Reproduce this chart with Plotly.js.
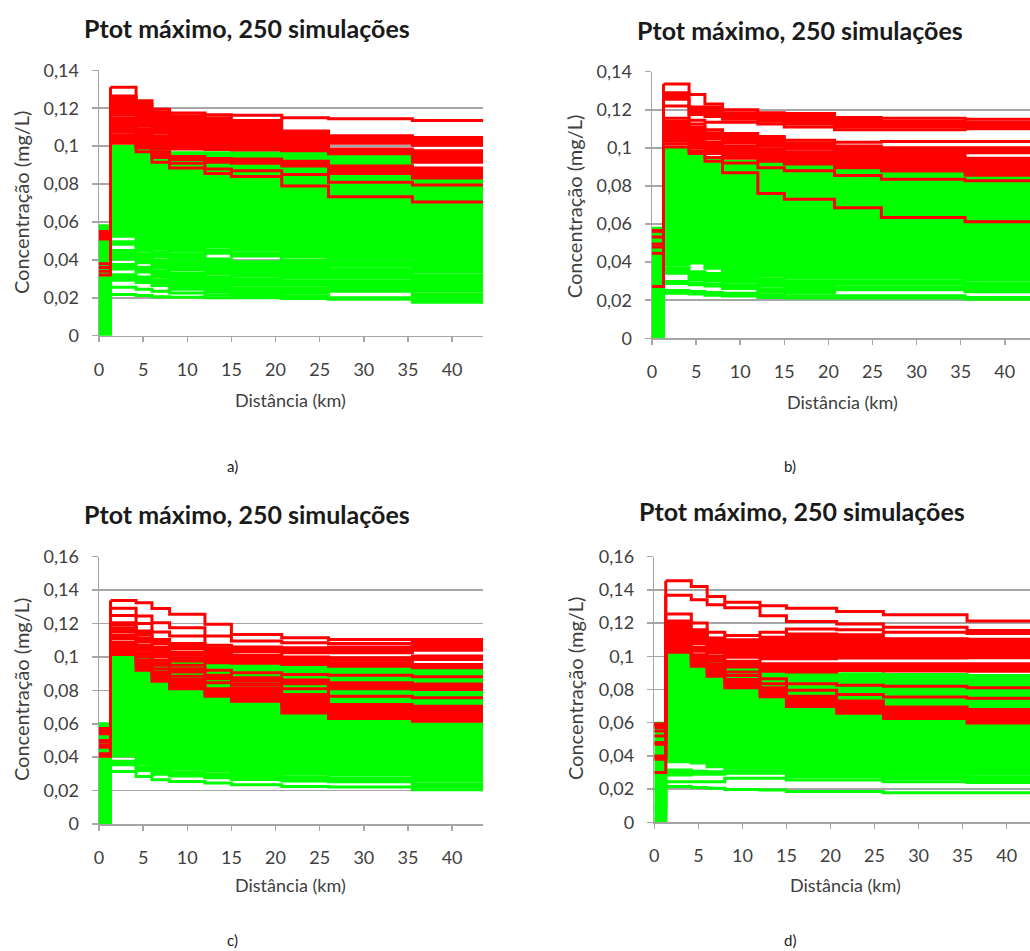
<!DOCTYPE html>
<html>
<head>
<meta charset="utf-8">
<script src="https://cdn.plot.ly/plotly-3.0.1.min.js"></script>
<style>html,body{margin:0;padding:0;background:#fff;}#chart{width:1030px;height:951px;}</style>
</head>
<body>
<div id="chart"></div>
<script>
// Distance nodes (km) where the simulated profiles change value
const kmNodes = [0, 1.3, 4.2, 6, 8, 12, 15, 20.7, 26, 35.5, 43.5];
// Each row: [start value (0-1.3 km), peak (1.3-4.2), then values from 4.2, 6, 8, 12, 15, 20.7, 26, 35.5 km]

// ---------- Panel a ----------
const aGreen = [
  [0.000, 0.0218, 0.0212, 0.0206, 0.0203, 0.0200, 0.0200, 0.0196, 0.0192, 0.0177],
  [0.0012, 0.0255, 0.0245, 0.0235, 0.0225, 0.0215, 0.0212, 0.0208, 0.0200, 0.0190],
  [0.0024, 0.0292, 0.0280, 0.0265, 0.0245, 0.0231, 0.0228, 0.0224, 0.0235, 0.0204],
  [0.018, 0.0322, 0.031, 0.0295, 0.0275, 0.026, 0.025, 0.025, 0.026, 0.022],
  [0.0192, 0.0352, 0.0336, 0.0311, 0.0291, 0.0276, 0.0266, 0.0266, 0.0276, 0.0236],
  [0.026, 0.0375, 0.036, 0.034, 0.033, 0.031, 0.030, 0.029, 0.029, 0.026],
  [0.0272, 0.0405, 0.0385, 0.0356, 0.0346, 0.0326, 0.0316, 0.0306, 0.0306, 0.0276],
  [0.034, 0.045, 0.043, 0.040, 0.039, 0.0405, 0.039, 0.036, 0.035, 0.032],
  [0.0352, 0.0482, 0.0446, 0.0416, 0.0406, 0.0435, 0.042, 0.0376, 0.0366, 0.0336],
  [0.042, 0.0495, 0.047, 0.044, 0.043, 0.045, 0.0435, 0.040, 0.039, 0.036],
  [0.0432, 0.0525, 0.0486, 0.0456, 0.0446, 0.0466, 0.0451, 0.0416, 0.0406, 0.0376],
  [0.050, 0.070, 0.068, 0.066, 0.064, 0.062, 0.060, 0.058, 0.056, 0.053],
  [0.058, 0.100, 0.098, 0.097, 0.0965, 0.0965, 0.0965, 0.0965, 0.0965, 0.0835]
];
const aGreenJoin = [0, 0, 0, 1, 0, 1, 0, 1, 0, 1, 0, 1, 1];
const aRed = [
  [0.032, 0.1015, 0.097, 0.0915, 0.0885, 0.0855, 0.084, 0.079, 0.0733, 0.0705],
  [0.034, 0.1030, 0.099, 0.094, 0.091, 0.088, 0.087, 0.085, 0.081, 0.0795],
  [0.036, 0.1045, 0.100, 0.0955, 0.093, 0.0915, 0.091, 0.0895, 0.0855, 0.0832],
  [0.038, 0.1060, 0.1015, 0.097, 0.0945, 0.0935, 0.0932, 0.092, 0.0895, 0.0885],
  [0.051, 0.1075, 0.103, 0.0985, 0.0985, 0.0982, 0.098, 0.0975, 0.096, 0.0915],
  [0.052, 0.1100, 0.1055, 0.1015, 0.1005, 0.1005, 0.1003, 0.099, 0.097, 0.0945],
  [0.053, 0.1150, 0.109, 0.1055, 0.104, 0.104, 0.103, 0.101, 0.0985, 0.0975],
  [0.054, 0.1165, 0.1105, 0.107, 0.1055, 0.1055, 0.1045, 0.1025, 0.1015, 0.1005],
  [0.055, 0.124, 0.117, 0.1125, 0.110, 0.109, 0.108, 0.106, 0.1045, 0.1045],
  [0.055, 0.1265, 0.1225, 0.118, 0.116, 0.115, 0.1135, 0.108, 0.1055, 0.1045],
  [0.055, 0.131, 0.124, 0.1195, 0.1175, 0.1165, 0.1163, 0.115, 0.1145, 0.1135]
];
const aRedJoin = [0, 0, 0, 1, 0, 1, 1, 0, 1, 1, 0];

// ---------- Panel b ----------
const bGreen = [
  [0, 0.0236, 0.0232, 0.0226, 0.0222, 0.0214, 0.0212, 0.0212, 0.0212, 0.0205],
  [0.004, 0.0251, 0.0246, 0.024, 0.0236, 0.0226, 0.0224, 0.0224, 0.0224, 0.0214],
  [0.0052, 0.0288, 0.0281, 0.0275, 0.0262, 0.0242, 0.0240, 0.0255, 0.0255, 0.0245],
  [0.008, 0.0298, 0.029, 0.0285, 0.0278, 0.0258, 0.0256, 0.0271, 0.0271, 0.0261],
  [0.0092, 0.0341, 0.0306, 0.0301, 0.0294, 0.0274, 0.0272, 0.0287, 0.0287, 0.0277],
  [0.02, 0.037, 0.035, 0.034, 0.033, 0.031, 0.030, 0.030, 0.030, 0.029],
  [0.0212, 0.0386, 0.0395, 0.0368, 0.0346, 0.0326, 0.0316, 0.0316, 0.0316, 0.0306],
  [0.03, 0.045, 0.044, 0.042, 0.040, 0.038, 0.037, 0.036, 0.035, 0.034],
  [0.045, 0.07, 0.068, 0.065, 0.063, 0.061, 0.059, 0.057, 0.055, 0.053],
  [0.0578, 0.0995, 0.097, 0.095, 0.093, 0.092, 0.091, 0.089, 0.0875, 0.0855]
];
const bGreenJoin = [0, 1, 0, 1, 0, 1, 0, 1, 1, 1];
const bRed = [
  [0.0272, 0.1005, 0.097, 0.093, 0.087, 0.076, 0.073, 0.0685, 0.0635, 0.0612],
  [0.0446, 0.102, 0.0985, 0.095, 0.092, 0.0895, 0.088, 0.0855, 0.0835, 0.0828],
  [0.048, 0.1035, 0.1, 0.097, 0.0945, 0.093, 0.0915, 0.0895, 0.0878, 0.0856],
  [0.0495, 0.105, 0.103, 0.1, 0.098, 0.0965, 0.095, 0.093, 0.091, 0.0893],
  [0.0532, 0.107, 0.106, 0.103, 0.101, 0.0995, 0.098, 0.0965, 0.0955, 0.0945],
  [0.0565, 0.1085, 0.1076, 0.1046, 0.1026, 0.1011, 0.0996, 0.0981, 0.0971, 0.0975],
  [0.0565, 0.114, 0.111, 0.108, 0.106, 0.1045, 0.1025, 0.101, 0.1, 0.1],
  [0.0565, 0.1155, 0.1125, 0.1095, 0.1075, 0.106, 0.104, 0.103, 0.1033, 0.1033],
  [0.0565, 0.122, 0.1145, 0.1135, 0.1135, 0.1125, 0.111, 0.1095, 0.1095, 0.11],
  [0.0565, 0.1255, 0.1175, 0.1165, 0.115, 0.114, 0.1125, 0.111, 0.111, 0.1112],
  [0.0565, 0.129, 0.1215, 0.1215, 0.1185, 0.117, 0.1165, 0.1145, 0.114, 0.1135],
  [0.0565, 0.1335, 0.128, 0.123, 0.12, 0.1185, 0.118, 0.116, 0.1155, 0.115]
];
const bRedJoin = [0, 0, 0, 1, 1, 0, 1, 0, 0, 0, 1, 0];

// ---------- Panel c ----------
const cGreen = [
  [0, 0.0315, 0.0285, 0.0265, 0.0255, 0.0245, 0.0235, 0.0225, 0.0222, 0.0205],
  [0.0012, 0.0355, 0.032, 0.0298, 0.0288, 0.0277, 0.0267, 0.0257, 0.0253, 0.022],
  [0.004, 0.0375, 0.034, 0.032, 0.031, 0.030, 0.029, 0.028, 0.0275, 0.024],
  [0.0052, 0.0408, 0.0358, 0.0338, 0.0328, 0.0318, 0.0308, 0.0298, 0.0293, 0.0258],
  [0.02, 0.05, 0.045, 0.042, 0.040, 0.038, 0.037, 0.036, 0.035, 0.033],
  [0.04, 0.075, 0.07, 0.066, 0.064, 0.062, 0.060, 0.058, 0.056, 0.054],
  [0.06, 0.1005, 0.099, 0.097, 0.0965, 0.0962, 0.096, 0.0955, 0.095, 0.0945]
];
const cGreenJoin = [0, 0, 1, 0, 1, 1, 1];
const cRed = [
  [0.0405, 0.1015, 0.092, 0.0855, 0.081, 0.0765, 0.0735, 0.0665, 0.0632, 0.0615],
  [0.041, 0.102, 0.095, 0.088, 0.0835, 0.0785, 0.0755, 0.0705, 0.0665, 0.066],
  [0.042, 0.103, 0.098, 0.091, 0.0865, 0.081, 0.0815, 0.0775, 0.0715, 0.0705],
  [0.046, 0.1045, 0.1, 0.093, 0.0885, 0.0845, 0.0835, 0.081, 0.0765, 0.0755],
  [0.047, 0.106, 0.101, 0.095, 0.091, 0.087, 0.0855, 0.084, 0.081, 0.0805],
  [0.049, 0.1075, 0.1025, 0.0965, 0.093, 0.089, 0.0875, 0.0862, 0.0845, 0.0838],
  [0.050, 0.109, 0.104, 0.098, 0.095, 0.092, 0.0905, 0.0895, 0.089, 0.0882],
  [0.054, 0.111, 0.1055, 0.1, 0.0975, 0.0965, 0.0962, 0.0955, 0.0945, 0.0935],
  [0.055, 0.113, 0.107, 0.102, 0.0995, 0.0985, 0.098, 0.097, 0.0965, 0.0955],
  [0.056, 0.115, 0.109, 0.1035, 0.101, 0.1, 0.0995, 0.0985, 0.098, 0.0985],
  [0.057, 0.117, 0.111, 0.106, 0.103, 0.102, 0.101, 0.1, 0.0995, 0.1005],
  [0.057, 0.119, 0.113, 0.108, 0.105, 0.1036, 0.1031, 0.1025, 0.1025, 0.104],
  [0.057, 0.1205, 0.1155, 0.1105, 0.108, 0.1055, 0.1045, 0.104, 0.1045, 0.1085],
  [0.057, 0.1248, 0.12, 0.115, 0.1125, 0.107, 0.106, 0.1055, 0.106, 0.109],
  [0.057, 0.1292, 0.1245, 0.1205, 0.1175, 0.1125, 0.1095, 0.1085, 0.108, 0.1095],
  [0.057, 0.1338, 0.1325, 0.129, 0.1255, 0.1195, 0.1135, 0.1115, 0.1105, 0.1105]
];
const cRedJoin = [0, 1, 1, 0, 0, 1, 0, 0, 1, 0, 1, 0, 1, 0, 0, 0];

// ---------- Panel d ----------
const dGreen = [
  [0, 0.0215, 0.021, 0.0205, 0.0198, 0.0195, 0.0185, 0.0185, 0.0178, 0.0178],
  [0.0012, 0.0245, 0.0245, 0.0245, 0.0265, 0.0265, 0.0255, 0.0255, 0.0245, 0.024],
  [0.0024, 0.0285, 0.029, 0.029, 0.0295, 0.0295, 0.0273, 0.0273, 0.0263, 0.0258],
  [0.008, 0.0315, 0.0308, 0.0305, 0.031, 0.031, 0.029, 0.029, 0.028, 0.0275],
  [0.0092, 0.0365, 0.0358, 0.0335, 0.0326, 0.0326, 0.0306, 0.0306, 0.0296, 0.0291],
  [0.02, 0.05, 0.048, 0.045, 0.043, 0.041, 0.039, 0.038, 0.037, 0.036],
  [0.04, 0.075, 0.072, 0.068, 0.065, 0.062, 0.06, 0.058, 0.056, 0.055],
  [0.0596, 0.1018, 0.1, 0.097, 0.0945, 0.092, 0.0905, 0.0895, 0.089, 0.0885]
];
const dGreenJoin = [0, 0, 0, 1, 0, 1, 1, 1];
const dRed = [
  [0.030, 0.1025, 0.094, 0.088, 0.081, 0.0757, 0.0697, 0.0657, 0.0626, 0.0598],
  [0.038, 0.1035, 0.096, 0.09, 0.0835, 0.078, 0.0725, 0.069, 0.0655, 0.0635],
  [0.039, 0.1045, 0.098, 0.092, 0.086, 0.081, 0.076, 0.073, 0.0695, 0.068],
  [0.040, 0.1055, 0.0995, 0.0935, 0.0885, 0.0835, 0.0795, 0.077, 0.0755, 0.0748],
  [0.047, 0.1065, 0.101, 0.095, 0.0905, 0.0865, 0.0835, 0.0825, 0.082, 0.081],
  [0.048, 0.1075, 0.103, 0.097, 0.0935, 0.091, 0.0905, 0.0915, 0.0912, 0.091],
  [0.052, 0.1085, 0.1055, 0.1, 0.097, 0.0955, 0.0955, 0.0955, 0.0955, 0.0955],
  [0.055, 0.1095, 0.1075, 0.102, 0.0995, 0.0985, 0.0985, 0.099, 0.099, 0.0992],
  [0.057, 0.1105, 0.11, 0.105, 0.103, 0.1025, 0.1035, 0.1035, 0.1035, 0.1043],
  [0.058, 0.114, 0.113, 0.108, 0.1065, 0.107, 0.1085, 0.1085, 0.107, 0.1073],
  [0.059, 0.1213, 0.116, 0.111, 0.11, 0.1115, 0.1135, 0.113, 0.1105, 0.1102],
  [0.059, 0.1255, 0.12, 0.1145, 0.1125, 0.1145, 0.1165, 0.116, 0.1145, 0.1138],
  [0.059, 0.1368, 0.134, 0.131, 0.1292, 0.1245, 0.121, 0.1195, 0.1175, 0.1155],
  [0.059, 0.1455, 0.142, 0.136, 0.1325, 0.1305, 0.129, 0.127, 0.125, 0.1213]
];
const dRedJoin = [0, 1, 1, 0, 0, 0, 1, 0, 1, 1, 1, 0, 0, 0];

// Axis tick labels and texts
const xTicks = [0, 5, 10, 15, 20, 25, 30, 35, 40];
const titleText = 'Ptot máximo, 250 simulações';
const xTitleText = 'Distância (km)';
const yTitleText = 'Concentração (mg/L)';
const captions = ['a)', 'b)', 'c)', 'd)'];

// ---------- Build ----------
const RED = '#ff0000', GREEN = '#00ff00', LW = 3;
const traces = [];
function profile(row) { // y-values on kmNodes (last value held to the end)
  return [row[0]].concat(row.slice(1), [row[row.length - 1]]);
}
function addPanel(greens, gJoin, reds, rJoin, xa, ya) {
  greens.forEach((row, i) => {
    traces.push({x: kmNodes, y: profile(row), xaxis: xa, yaxis: ya, mode: 'lines',
      line: {shape: 'hv', color: GREEN, width: LW}, fill: (i > 0 && gJoin[i]) ? 'tonexty' : 'none',
      fillcolor: GREEN, hoverinfo: 'skip', showlegend: false});
  });
  reds.forEach((row, i) => {
    traces.push({x: kmNodes.slice(1), y: profile(row).slice(1), xaxis: xa, yaxis: ya, mode: 'lines',
      line: {shape: 'hv', color: RED, width: LW}, fill: (i > 0 && rJoin[i]) ? 'tonexty' : 'none',
      fillcolor: RED, hoverinfo: 'skip', showlegend: false});
  });
  reds.forEach((row) => {
    traces.push({x: [kmNodes[0], kmNodes[1], kmNodes[1]], y: [row[0], row[0], row[1]], xaxis: xa, yaxis: ya,
      mode: 'lines', line: {color: RED, width: LW}, hoverinfo: 'skip', showlegend: false});
  });
}
addPanel(aGreen, aGreenJoin, aRed, aRedJoin, 'x', 'y');
addPanel(bGreen, bGreenJoin, bRed, bRedJoin, 'x2', 'y2');
addPanel(cGreen, cGreenJoin, cRed, cRedJoin, 'x3', 'y3');
addPanel(dGreen, dGreenJoin, dRed, dRedJoin, 'x4', 'y4');

const FONT = 'Lato, "Open Sans", sans-serif';
const GRID = '#a6a6a6';
const TXT = '#404040';
function xAx(domain, range, anchor) {
  return {domain: domain, range: range, anchor: anchor, tickvals: xTicks, showgrid: false, zeroline: false,
    showline: true, linecolor: GRID, linewidth: 1.5, ticks: 'outside', ticklen: 5, tickcolor: GRID, tickwidth: 1.5,
    ticklabelstandoff: 12, tickfont: {family: FONT, size: 18, color: TXT}, fixedrange: true};
}
function yAx(domain, range, anchor) {
  return {domain: domain, range: range, anchor: anchor, dtick: 0.02, tick0: 0, showgrid: true, gridcolor: GRID,
    gridwidth: 1.5, zeroline: false, showline: true, linecolor: GRID, linewidth: 1.5, ticks: 'outside', ticklen: 6,
    tickcolor: GRID, tickwidth: 1.5, ticklabelstandoff: 9, tickfont: {family: FONT, size: 18, color: TXT},
    fixedrange: true};
}
const ann = [];
function txt(text, x, y, font, opts) {
  ann.push(Object.assign({text: text, x: x, y: y, xref: 'paper', yref: 'paper', xanchor: 'center', yanchor: 'middle',
    showarrow: false, font: font}, opts || {}));
}
const titleFont = {family: FONT, size: 25, color: '#1a1a1a', weight: 'bold'};
const xTitleFont = {family: FONT, size: 18, color: TXT};
const yTitleFont = {family: FONT, size: 20, color: TXT};
const capFont = {family: FONT, size: 15, color: '#1a1a1a'};
txt(titleText, 0.2398, 0.9706, titleFont);
txt(titleText, 0.7767, 0.9685, titleFont);
txt(titleText, 0.2398, 0.4595, titleFont);
txt(titleText, 0.7786, 0.4627, titleFont);
txt(xTitleText, 0.2825, 0.5794, xTitleFont);
txt(xTitleText, 0.8184, 0.5768, xTitleFont);
txt(xTitleText, 0.2825, 0.0694, xTitleFont);
txt(xTitleText, 0.8204, 0.0689, xTitleFont);
txt(yTitleText, 0.0204, 0.7865, yTitleFont, {textangle: -90});
txt(yTitleText, 0.5568, 0.7827, yTitleFont, {textangle: -90});
txt(yTitleText, 0.0204, 0.2744, yTitleFont, {textangle: -90});
txt(yTitleText, 0.5583, 0.2755, yTitleFont, {textangle: -90});
txt(captions[0], 0.2262, 0.5100, capFont);
txt(captions[1], 0.7670, 0.5100, capFont);
txt(captions[2], 0.2262, 0.0116, capFont);
txt(captions[3], 0.7670, 0.0116, capFont);

const layout = {
  width: 1030, height: 951, margin: {l: 0, r: 0, t: 0, b: 0}, paper_bgcolor: '#ffffff', plot_bgcolor: '#ffffff',
  separators: ',.', showlegend: false, font: {family: FONT},
  xaxis: xAx([0.09612, 0.46893], [0, 43.5], 'y'),
  yaxis: yAx([0.64700, 0.92608], [0, 0.14], 'x'),
  xaxis2: xAx([0.63301, 1.0], [0, 42.857], 'y2'),
  yaxis2: yAx([0.64427, 0.92461], [0, 0.14], 'x2'),
  xaxis3: xAx([0.09612, 0.46893], [0, 43.5], 'y3'),
  yaxis3: yAx([0.13354, 0.41462], [0, 0.16], 'x3'),
  xaxis4: xAx([0.63524, 1.0], [0, 42.645], 'y4'),
  yaxis4: yAx([0.13533, 0.41462], [0, 0.16], 'x4'),
  annotations: ann
};
Plotly.newPlot('chart', traces, layout, {staticPlot: true, displayModeBar: false});
</script>
</body>
</html>
